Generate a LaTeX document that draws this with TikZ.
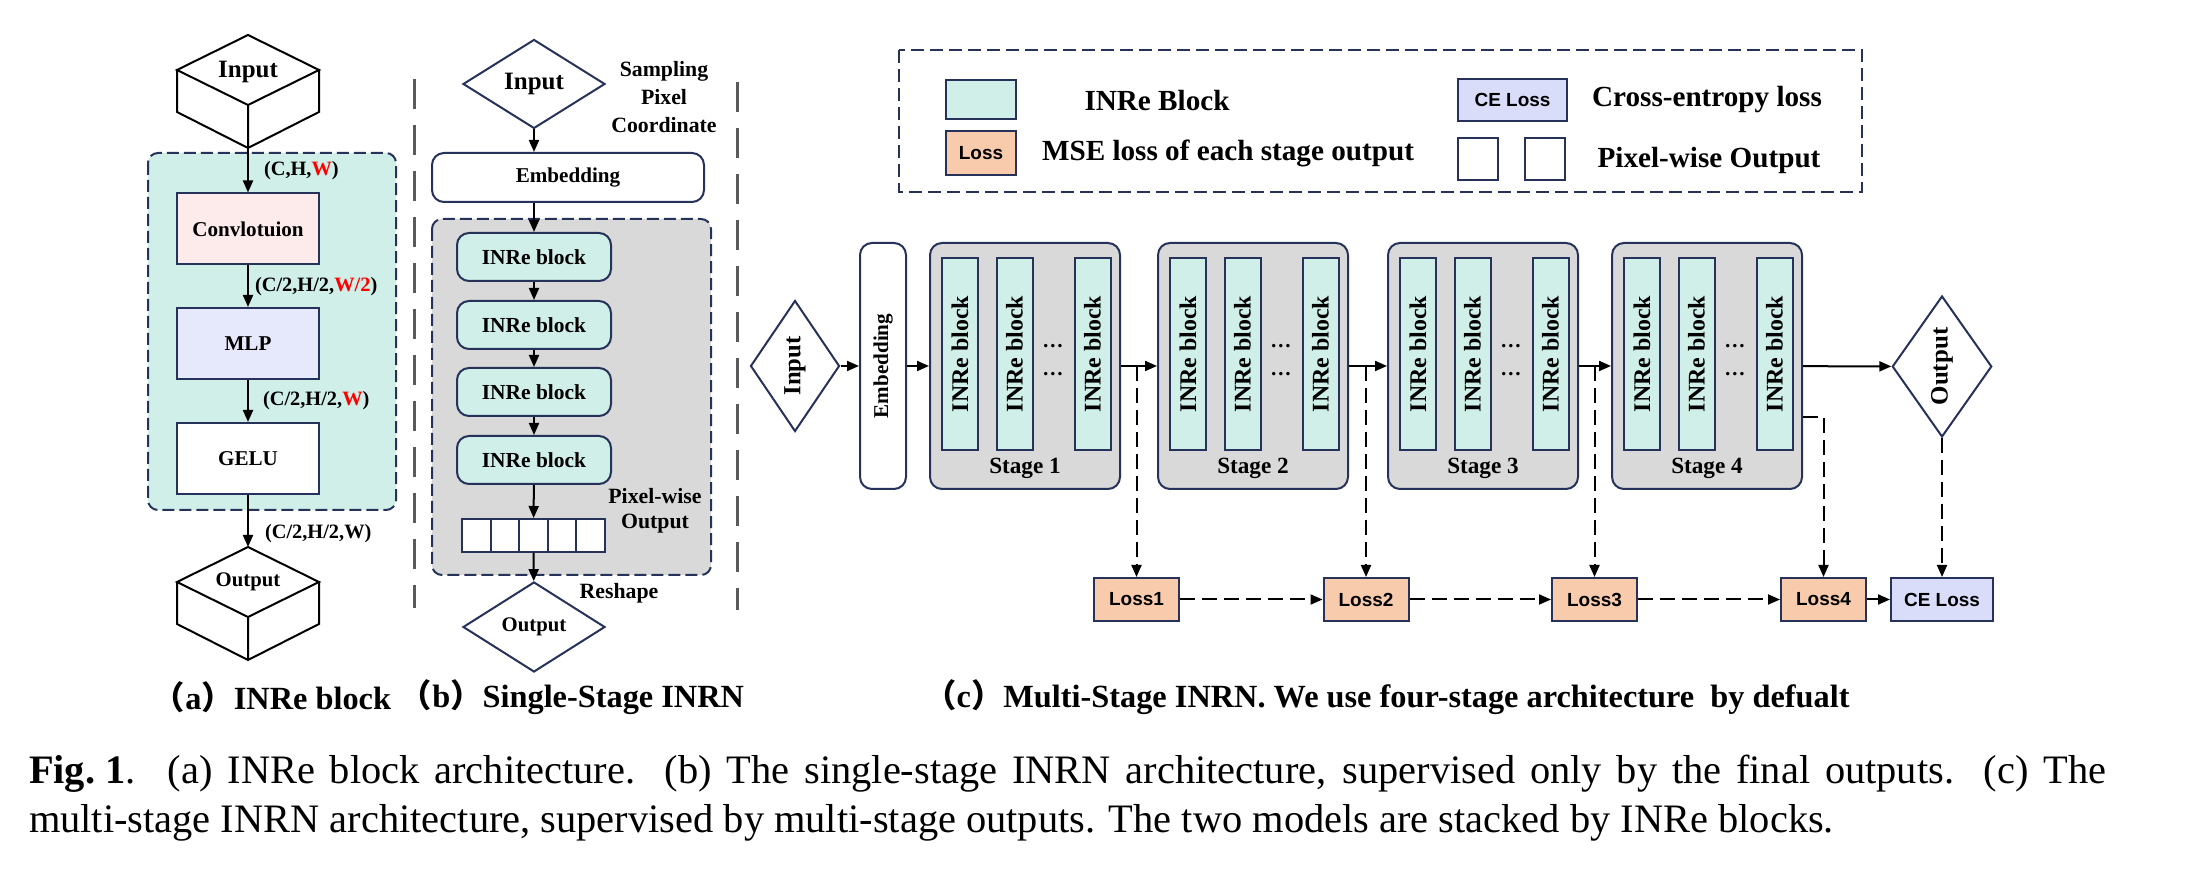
\documentclass[tikz,border=0pt]{standalone}
\usepackage{fontspec}
\setmainfont{Liberation Serif}
\newfontfamily\lossfont{Liberation Sans}
\newfontfamily\cjk{Noto Sans CJK SC}
\usetikzlibrary{shapes.geometric,arrows.meta,positioning,calc}

\definecolor{inreteal}{RGB}{207,239,232}
\definecolor{convpink}{RGB}{253,234,234}
\definecolor{mlpblue}{RGB}{230,233,252}
\definecolor{stagegray}{RGB}{217,217,217}
\definecolor{lossorange}{RGB}{248,203,173}
\definecolor{celav}{RGB}{218,221,250}
\definecolor{navy}{RGB}{38,50,89}
\definecolor{sepgray}{RGB}{90,90,90}

\tikzset{
  cubebox/.pic={
    \draw[fill=white] (-71,35) -- (0,0) -- (71,35) -- (0,70) -- cycle;
    \draw (-71,35) -- (-71,77) -- (0,113) -- (71,77) -- (71,35) (0,70) -- (0,113);
    \coordinate (-top) at (0,0);
    \coordinate (-bot) at (0,113);
  },
  region/.style={draw=navy, dash pattern=on 1.2mm off 0.5mm, rounded corners=1mm},
  sepline/.style={draw=sepgray, line width=0.3mm, dash pattern=on 3mm off 1.6mm},
  lossline/.style={dash pattern=on 1.5mm off 0.7mm},
  flowbox/.style={draw=navy, minimum width=14.2mm, minimum height=7.1mm, inner sep=0pt,
    font=\bfseries\fontsize{6}{7.2}\selectfont},
  dimlbl/.style={inner sep=0pt, font=\bfseries\fontsize{5.8}{7}\selectfont},
  cubetxt/.style={inner sep=0pt, font=\bfseries\fontsize{7.1}{8.5}\selectfont},
  dia/.style={diamond, draw=navy, fill=white, inner sep=0pt, font=\bfseries\fontsize{7.1}{8.5}\selectfont},
  note/.style={inner sep=0pt, align=center, font=\bfseries\fontsize{6.2}{8}\selectfont},
  embb/.style={draw=navy, fill=white, rounded corners=1.2mm, minimum width=27.2mm, minimum height=4.9mm,
    inner sep=0pt, font=\bfseries\fontsize{6}{7.2}\selectfont},
  blockb/.style={draw=navy, fill=inreteal, rounded corners=1.2mm, minimum width=15.4mm, minimum height=4.8mm,
    inner sep=0pt, font=\bfseries\fontsize{6.1}{7.2}\selectfont},
  cell/.style={draw=navy, fill=white, minimum width=2.86mm, minimum height=3.3mm, inner sep=0pt},
  stage/.style={draw=navy, fill=stagegray, rounded corners=1.2mm, minimum width=19mm, minimum height=24.6mm},
  vblock/.style={draw=navy, fill=inreteal, rotate=90, minimum width=19.2mm, minimum height=3.6mm,
    inner sep=0pt, font=\bfseries\fontsize{6.8}{8}\selectfont},
  dotlbl/.style={inner sep=0pt, font=\bfseries\fontsize{6}{7}\selectfont},
  stagelbl/.style={inner sep=0pt, font=\bfseries\fontsize{6.6}{8}\selectfont},
  lossbox/.style={draw=navy, fill=lossorange, minimum width=8.5mm, minimum height=4.3mm, inner sep=0pt,
    font=\lossfont\bfseries\fontsize{5.4}{6.5}\selectfont},
  celoss/.style={lossbox, fill=celav, minimum width=10.2mm},
  legtxt/.style={inner sep=0pt, font=\bfseries\fontsize{8.3}{10}\selectfont},
  subcap/.style={inner sep=0pt, font=\bfseries\fontsize{9.2}{11}\selectfont},
  figcap/.style={inner sep=0pt, anchor=base west, font=\fontsize{11.5}{13.9}\selectfont},
}

\begin{document}
\begin{tikzpicture}[x=0.1mm, y=-0.1mm, line width=0.2mm, >={Triangle[length=1.2mm,width=1mm]}]
\useasboundingbox (0,0) rectangle (2190,872);

% (a) INRe block
\draw[region, fill=inreteal] (148,153) rectangle (396,510);
\pic (inA) at (248,35) {cubebox};
\node[cubetxt] (inAt) at (248,72) {Input};
\node[flowbox, fill=convpink] (conv) at (248,229) {Convlotuion};
\node[flowbox, fill=mlpblue] (mlp) at (248,343.5) {MLP};
\node[flowbox, fill=white] (gelu) at (248,458.5) {GELU};
\pic (outA) at (248,547) {cubebox};
\node[cubetxt, font=\bfseries\fontsize{5.9}{7}\selectfont] (outAt) at (248,582) {Output};

\draw[->] (inA-bot) -- (conv) node[dimlbl, midway, right=1.5mm] {(C,H,\textcolor{red}{W})};
\draw[->] (conv) -- (mlp) node[dimlbl, midway, right=0.6mm] {(C/2,H/2,\textcolor{red}{W/2})};
\draw[->] (mlp) -- (gelu) node[dimlbl, midway, right=1.4mm] {(C/2,H/2,\textcolor{red}{W})};
\draw[->] (gelu) -- (outA-top) node[dimlbl, pos=0.75, right=1.6mm] {(C/2,H/2,W)};

% (b) single stage
\draw[sepline] (414,79) -- (414,608);
\draw[sepline] (737,82) -- (737,610);
\node[dia, minimum width=14.2mm, minimum height=8.9mm] (inB) at (534,84) {Input};
\node[note] (samp) at (664,97) {Sampling\\Pixel\\Coordinate};
\node[embb] (embB) at (568,177.5) {Embedding};
\draw[region, fill=stagegray] (432,219) rectangle (711,575);
\foreach \i/\y in {1/257,2/325,3/392,4/460}
  \node[blockb] (bB\i) at (534,\y) {INRe block};
\foreach \i in {1,...,5}
  \node[cell] (c\i) at ({462+28.6*(\i-0.5)},535.5) {};
\node[note, font=\bfseries\fontsize{6.2}{7.1}\selectfont] (pwo) at (655,511) {Pixel-wise\\Output};
\node[dia, minimum width=14.2mm, minimum height=9mm, font=\bfseries\fontsize{5.9}{7}\selectfont] (outB) at (534,627) {Output};
\node[note] (resh) at (619,593) {Reshape};

\draw[->] (inB) -- (inB |- embB.north);
\draw[->] (inB |- embB.south) -- (bB1);
\foreach \i/\j in {1/2,2/3,3/4}
  \draw[->] (bB\i) -- (bB\j);
\draw[->] (bB4) -- (c3);
\draw[->] (c3) -- (outB);

% (c) legend
\draw[draw=navy, dash pattern=on 1.3mm off 0.6mm] (899,50) rectangle (1862,192);
\node[cell, fill=inreteal, minimum width=7mm, minimum height=3.9mm] (lgT) at (981,99.5) {};
\node[legtxt] (lgTt) at (1157,101) {INRe Block};
\node[lossbox, minimum width=7mm, minimum height=4.4mm] (lgL) at (981,153) {Loss};
\node[legtxt] (lgLt) at (1228,153) {MSE loss of each stage output};
\node[celoss, minimum width=10.9mm, minimum height=4.2mm] (lgC) at (1512.5,100) {CE Loss};
\node[legtxt] (lgCt) at (1707,100) {Cross-entropy loss};
\node[cell, minimum width=4mm, minimum height=4.2mm] (lgP1) at (1477.5,159) {};
\node[cell, minimum width=4mm, minimum height=4.2mm] (lgP2) at (1545,159) {};
\node[legtxt] (lgPt) at (1709,160) {Pixel-wise Output};

% (c) multi stage
\node[dia, rotate=90, minimum width=13.1mm, minimum height=8.9mm, font=\bfseries\fontsize{7}{8}\selectfont] (inC) at (795,366) {Input};
\node[embb, rotate=90, minimum width=24.6mm, minimum height=4.6mm] (embC) at (883,366) {Embedding};
\foreach \s/\xl in {1/930,2/1158,3/1388,4/1612}
{
  \node[stage] (s\s) at (\xl+95,366) {};
  \foreach \k/\dx in {1/30,2/84.5,3/162.5}
    \node[vblock] (s\s b\k) at (\xl+\dx,354) {INRe block};
  \node[dotlbl] at (\xl+123,346) {…};
  \node[dotlbl] at (\xl+123,374) {…};
  \node[stagelbl] (s\s t) at (\xl+95,468) {Stage \s};
}
\node[dia, rotate=90, minimum width=14.1mm, minimum height=8.8mm] (outC) at (1942,366.5) {Output};

\draw[->] (inC) -- (embC);
\draw[->] (embC) -- (s1);
\draw[->] (s1) -- (s2);
\draw[->] (s2) -- (s3);
\draw[->] (s3) -- (s4);
\draw[->] (s4) -- (outC);

\node[lossbox] (l1) at (1136.5,599.5) {Loss1};
\node[lossbox] (l2) at (1366,599.5) {Loss2};
\node[lossbox] (l3) at (1594.5,599.5) {Loss3};
\node[lossbox] (l4) at (1823.5,599.5) {Loss4};
\node[celoss] (ce) at (1942,599.5) {CE Loss};

\draw[lossline, ->] (l1 |- s1.east) -- (l1);
\draw[lossline, ->] (l2 |- s2.east) -- (l2);
\draw[lossline, ->] (l3 |- s3.east) -- (l3);
\draw[lossline, ->] ([yshift=-5.1mm]s4.east) -| (l4);
\draw[lossline, ->] (outC) -- (ce);
\draw[lossline, ->] (l1) -- (l2);
\draw[lossline, ->] (l2) -- (l3);
\draw[lossline, ->] (l3) -- (l4);
\draw[->] (l4) -- (ce);

% captions
\node[subcap] (capA) at (272,697) {{\cjk （}a{\cjk ）}INRe block};
\node[subcap] (capB) at (572,697) {{\cjk （}b{\cjk ）}Single-Stage INRN};
\node[subcap] (capC) at (1387,697) {{\cjk （}c{\cjk ）}Multi-Stage INRN. We use four-stage architecture\ \ by defualt};
\node[figcap] (fig1) at (28,783) {\makebox[207.7mm][s]{\mbox{\textbf{Fig.~1}.}\hspace{0.8em}(a) INRe block architecture.\ \ (b) The single-stage INRN architecture, supervised only by the final outputs.\ \ (c) The}};
\node[figcap] (fig2) at (28,832) {multi-stage INRN architecture, supervised by multi-stage outputs. The two models are stacked by INRe blocks.};

\end{tikzpicture}
\end{document}
